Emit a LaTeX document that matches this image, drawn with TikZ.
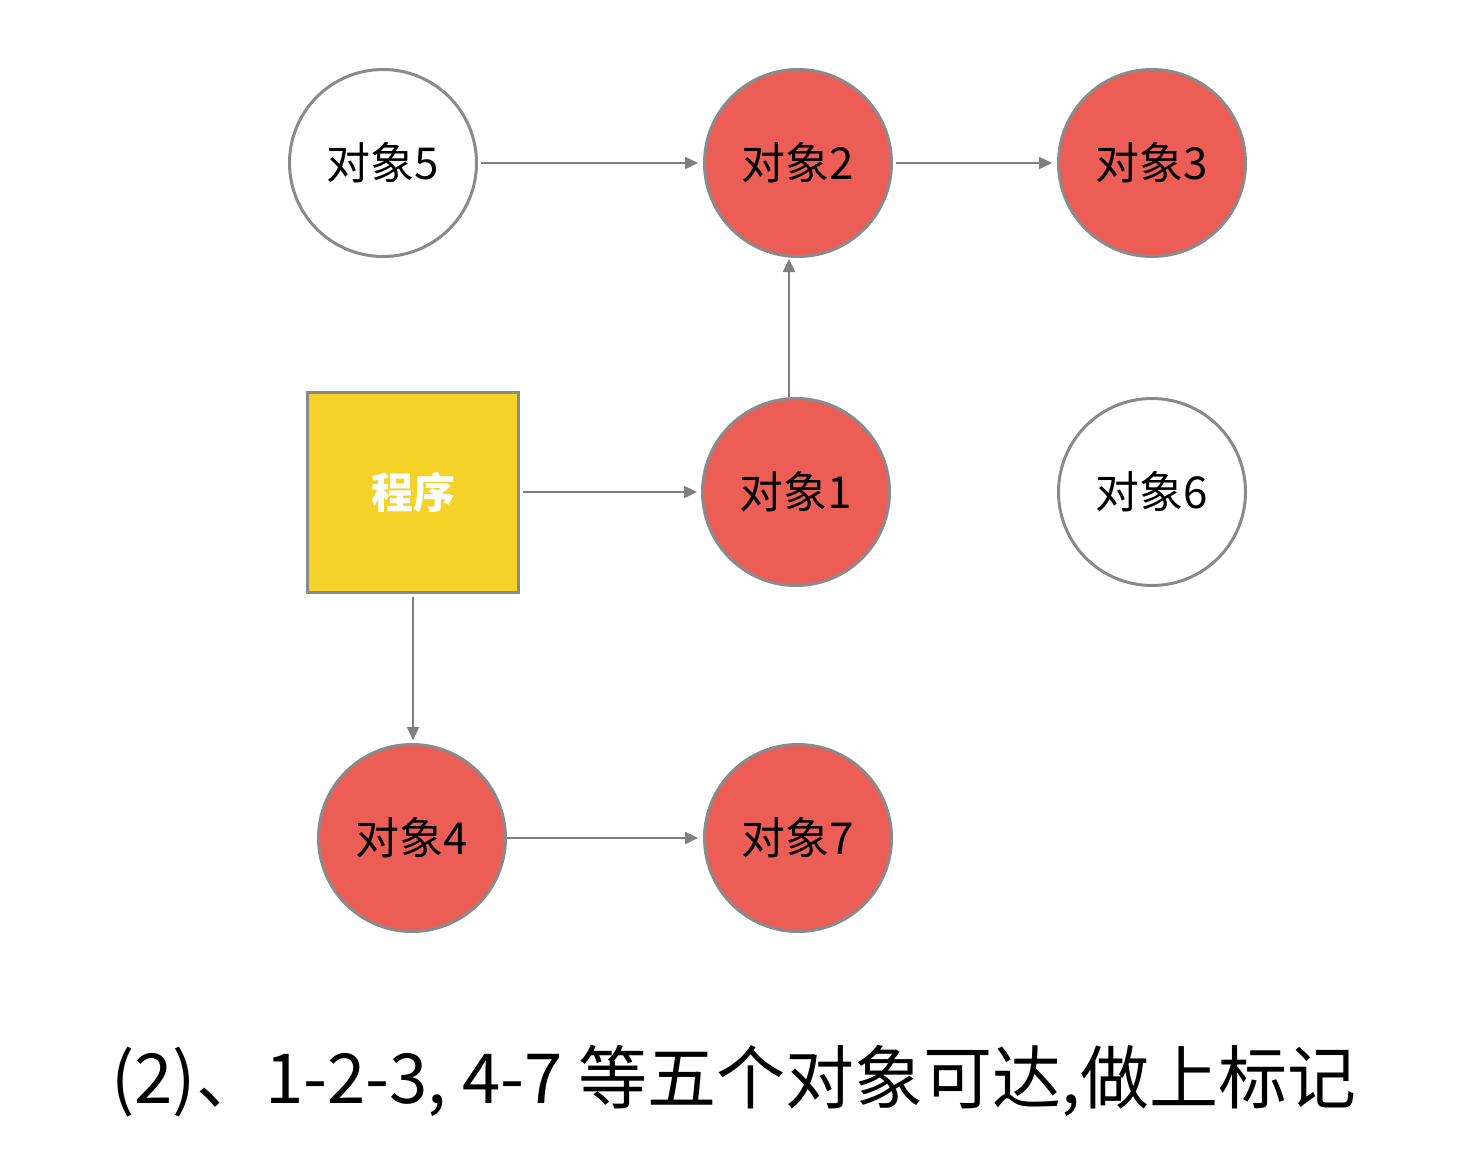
\documentclass[tikz,border=0pt]{standalone}
\usepackage{fontspec}
\setmainfont{Noto Sans CJK SC}
\usetikzlibrary{arrows.meta}
\definecolor{objred}{RGB}{236,94,85}
\definecolor{edgegrey}{RGB}{138,138,140}
\definecolor{arrgrey}{RGB}{128,128,128}
\definecolor{progyellow}{RGB}{245,210,40}
\tikzset{
  obj/.style={circle, draw=edgegrey, line width=3pt, minimum size=187pt, inner sep=0pt,
    font=\fontsize{44}{48}\selectfont},
  redobj/.style={obj, fill=objred},
  whiteobj/.style={obj, fill=white},
  progbox/.style={rectangle, draw=edgegrey, line width=3pt, fill=progyellow,
    minimum width=211pt, minimum height=200pt, inner sep=0pt,
    text=white, font=\fontsize{42}{46}\selectfont\bfseries},
  arr/.style={draw=arrgrey, line width=2.4pt, -{Triangle[length=13pt,width=12pt]}}
}
\begin{document}
\begin{tikzpicture}[x=1pt,y=-1pt]
\useasboundingbox[fill=white] (0,0) rectangle (1468,1164);
\node[whiteobj] (o5) at (383,163) {对象5};
\node[redobj] (o2) at (798,163) {对象2};
\node[redobj] (o3) at (1152,163) {对象3};
\node[progbox] (p) at (413,492) {程序};
\node[redobj] (o1) at (796,492) {对象1};
\node[whiteobj] (o6) at (1152,492) {对象6};
\node[redobj] (o4) at (412,838) {对象4};
\node[redobj] (o7) at (798,838) {对象7};
\draw[arr, shorten <=3pt, shorten >=5pt] (o5) -- (o2);
\draw[arr, shorten <=3pt, shorten >=5pt] (o2) -- (o3);
\draw[arr, shorten >=1pt] ([xshift=-7pt]o1.north) -- ([xshift=-7pt]o1.north |- o2.south);
\draw[arr, shorten <=3pt, shorten >=4pt] (p.east) -- (p.east -| o1.west);
\draw[arr, shorten <=3pt, shorten >=3pt] (p.south) -- (p.south |- o4.north);
\draw[arr, shorten >=5pt] (o4) -- (o7);
\node[font=\fontsize{69}{73}\selectfont, anchor=center] (cap) at (734,1081) {(2)、1-2-3, 4-7 等五个对象可达,做上标记};
\end{tikzpicture}
\end{document}
